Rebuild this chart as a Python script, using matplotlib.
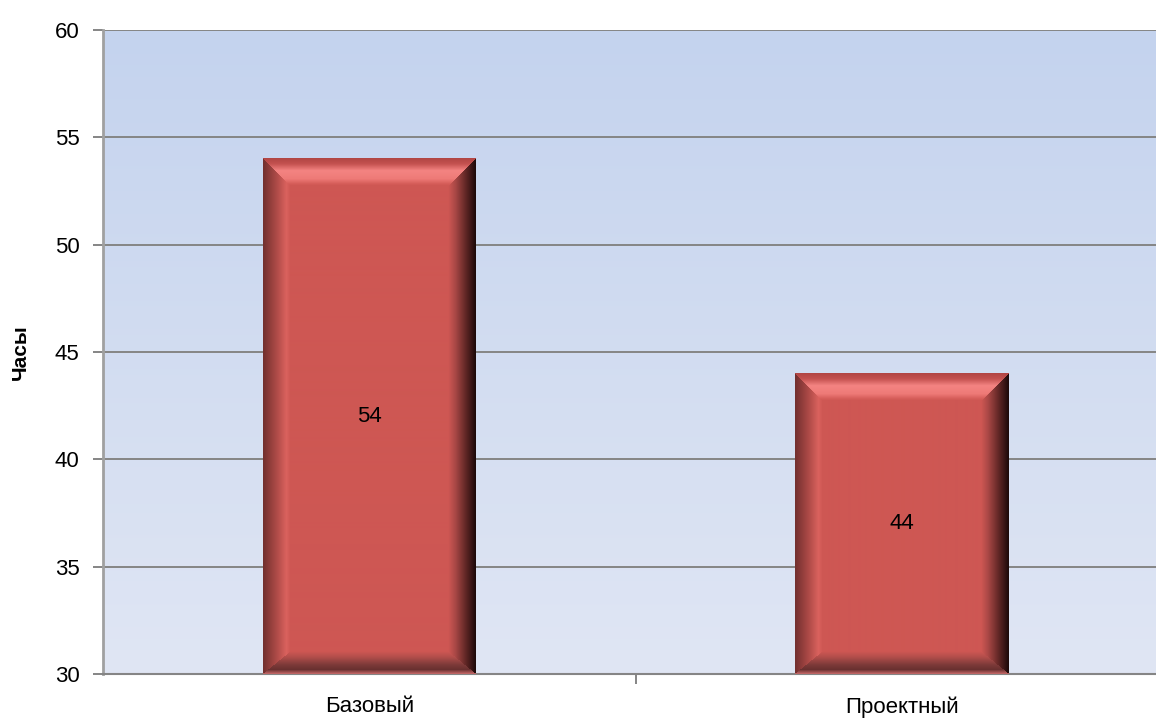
import numpy as np
import matplotlib.pyplot as plt
from matplotlib.ticker import MultipleLocator, FixedLocator

plt.rcParams['font.family'] = ['Liberation Sans', 'DejaVu Sans']

categories = ["Базовый", "Проектный"]
hours = [54, 44]
y_min, y_max = 30, 60

base = np.array([206, 87, 83]) / 255


def profile(t, stops):
    # stops: list of (position, (r, g, b))
    pos = [s[0] for s in stops]
    out = np.zeros(t.shape + (3,))
    for c in range(3):
        out[..., c] = np.interp(t, pos, [s[1][c] / 255 for s in stops])
    return out


def bevel_image(w, h, b_side=27, b_top=27, b_bot=22):
    ii, jj = np.mgrid[0:h, 0:w]
    dt = ii / b_top
    db = (h - 1 - ii) / b_bot
    dl = jj / b_side
    dr = (w - 1 - jj) / b_side
    d = np.stack([dt, db, dl, dr])
    region = np.argmin(d, axis=0)
    tmin = np.clip(np.min(d, axis=0), 0, 1)
    img = np.tile(base, (h, w, 1))
    b255 = tuple(base * 255)
    top = profile(tmin, [(0, (178, 70, 68)), (0.2, (196, 82, 80)),
                         (0.45, (244, 132, 130)), (0.75, (238, 122, 119)),
                         (0.92, (215, 95, 91)), (1, b255)])
    bot = profile(tmin, [(0, (190, 100, 100)), (0.18, (105, 48, 48)),
                         (0.4, (125, 58, 57)), (0.75, (178, 78, 75)), (1, b255)])
    left = profile(tmin, [(0, (115, 48, 47)), (0.5, (175, 75, 72)),
                          (0.85, (218, 98, 94)), (1, b255)])
    right = profile(tmin, [(0, (30, 10, 10)), (0.35, (95, 38, 37)),
                           (0.75, (170, 72, 70)), (1, b255)])
    inside = np.min(d, axis=0) < 1
    for k, col in enumerate([top, bot, left, right]):
        m = inside & (region == k)
        img[m] = col[m]
    return img


fig = plt.figure(figsize=(11.56, 7.2), dpi=100)
ax = fig.add_axes([103 / 1156, 46 / 720, 1053 / 1156, 644 / 720])
ax.set_xlim(-0.5, 1.5 - 12 / 532.5)
ax.set_ylim(y_min, y_max)

# vertical gradient background of the plot area
grad = np.linspace(0, 1, 256)[:, None]
top_c = np.array([196, 211, 238]) / 255
bot_c = np.array([224, 230, 244]) / 255
bg = top_c[None, None, :] * (1 - grad[..., None]) + bot_c[None, None, :] * grad[..., None]
ax.imshow(bg, extent=(0, 1, 0, 1), transform=ax.transAxes, aspect='auto', zorder=0)

ax.yaxis.set_major_locator(MultipleLocator(5))
ax.grid(axis='y', color='#858585', linewidth=1.4)
ax.set_axisbelow(True)

x = np.arange(len(categories))
bars = ax.bar(x, np.array(hours) - y_min, bottom=y_min, width=0.4,
              color=base, zorder=2)

fig.canvas.draw()
for rect, v in zip(bars, hours):
    x0, x1 = rect.get_x(), rect.get_x() + rect.get_width()
    p0 = ax.transData.transform((x0, y_min))
    p1 = ax.transData.transform((x1, v))
    w = int(round(p1[0] - p0[0]))
    h = int(round(p1[1] - p0[1]))
    ax.imshow(bevel_image(w, h), extent=(x0, x1, y_min, v), aspect='auto',
              interpolation='bilinear', zorder=3)
    ax.text(rect.get_x() + rect.get_width() / 2, (y_min + v) / 2, str(v),
            ha='center', va='center', fontsize=16, zorder=4)

ax.set_xlim(-0.5, 1.5 - 12 / 532.5)
ax.set_ylim(y_min, y_max)

ax.set_xticks(x)
ax.set_xticklabels(categories)
ax.xaxis.set_minor_locator(FixedLocator([0.5]))
ax.tick_params(axis='x', which='major', length=0, pad=16, labelsize=16)
ax.tick_params(axis='x', which='minor', length=7, color='#858585', width=1.4)
ax.tick_params(axis='y', length=7, color='#858585', width=1.4, labelsize=16, pad=10)

for s in ['top', 'right']:
    ax.spines[s].set_visible(False)
ax.spines['left'].set_color('#a0a0a0')
ax.spines['left'].set_linewidth(2)
ax.spines['bottom'].set_color('#858585')
ax.spines['bottom'].set_linewidth(1.5)

fig.text(20 / 1156, 1 - 352 / 720, "Часы", rotation=90, ha='center', va='center',
         fontsize=15, fontweight='bold')

fig.savefig("out.png", dpi=100)
